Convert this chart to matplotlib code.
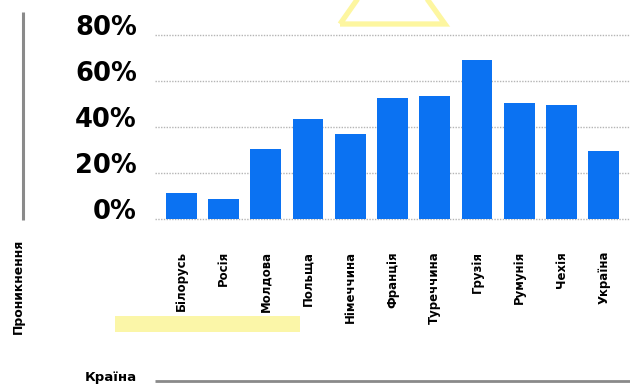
import matplotlib.pyplot as plt
from matplotlib.patches import Polygon, Rectangle

# data
countries = ['Білорусь', 'Росія', 'Молдова', 'Польща', 'Німеччина', 'Франція',
             'Туреччина', 'Грузія', 'Румунія', 'Чехія', 'Україна']
penetration = [11.5, 8.5, 30.5, 43.5, 37, 52.5, 53.5, 69, 50.5, 49.5, 29.5]
y_ticks = [0, 20, 40, 60, 80]
y_tick_labels = ['0%', '20%', '40%', '60%', '80%']

W, H = 630, 388
fig = plt.figure(figsize=(W / 100, H / 100), dpi=100)

# background layer in pixel coords for decorations
bg = fig.add_axes([0, 0, 1, 1], zorder=0)
bg.set_xlim(0, W)
bg.set_ylim(H, 0)
bg.axis('off')
bg.add_patch(Rectangle((115, 316), 185, 16, color='#fbf6a8', lw=0))
bg.add_patch(Polygon([(340, 24), (445, 24), (392, -50)], closed=True,
                     fill=False, edgecolor='#fdf6a0', lw=3.8, joinstyle='miter'))
bg.plot([23, 23], [12, 220], color='#8a8a8a', lw=2.2, solid_capstyle='butt')
bg.plot([155, W], [381, 381], color='#8a8a8a', lw=2.0, solid_capstyle='butt')
bg.text(18, 286, 'Проникнення', rotation=90, ha='center', va='center',
        fontsize=9, fontweight='bold')
bg.text(85, 378, 'Країна', ha='left', va='center', fontsize=9.5, fontweight='bold')

# main chart
ax = fig.add_axes([155 / W, 1 - 219 / H, 1 - 155 / W, (219 - 35) / H], zorder=1)
ax.patch.set_alpha(0)
x = range(len(countries))
ax.bar(x, penetration, width=0.73, color='#0b72f2', zorder=2)
ax.set_xlim(-0.62, len(countries) - 0.38)
ax.set_ylim(0, 80)
ax.set_yticks(y_ticks)
ax.set_yticklabels(y_tick_labels, fontsize=18.5, fontweight='bold', va='baseline')
ax.set_xticks(list(x))
ax.set_xticklabels(countries, rotation=90, fontsize=8.5, fontweight='bold', va='top')
ax.tick_params(axis='y', length=0, pad=13)
ax.tick_params(axis='x', length=0, pad=23)
for v in y_ticks:
    ax.axhline(v, color='#b5b5b5', lw=1, ls=(0, (1, 1)), zorder=1, clip_on=False)
for s in ax.spines.values():
    s.set_visible(False)

fig.savefig('out.png', dpi=100)
